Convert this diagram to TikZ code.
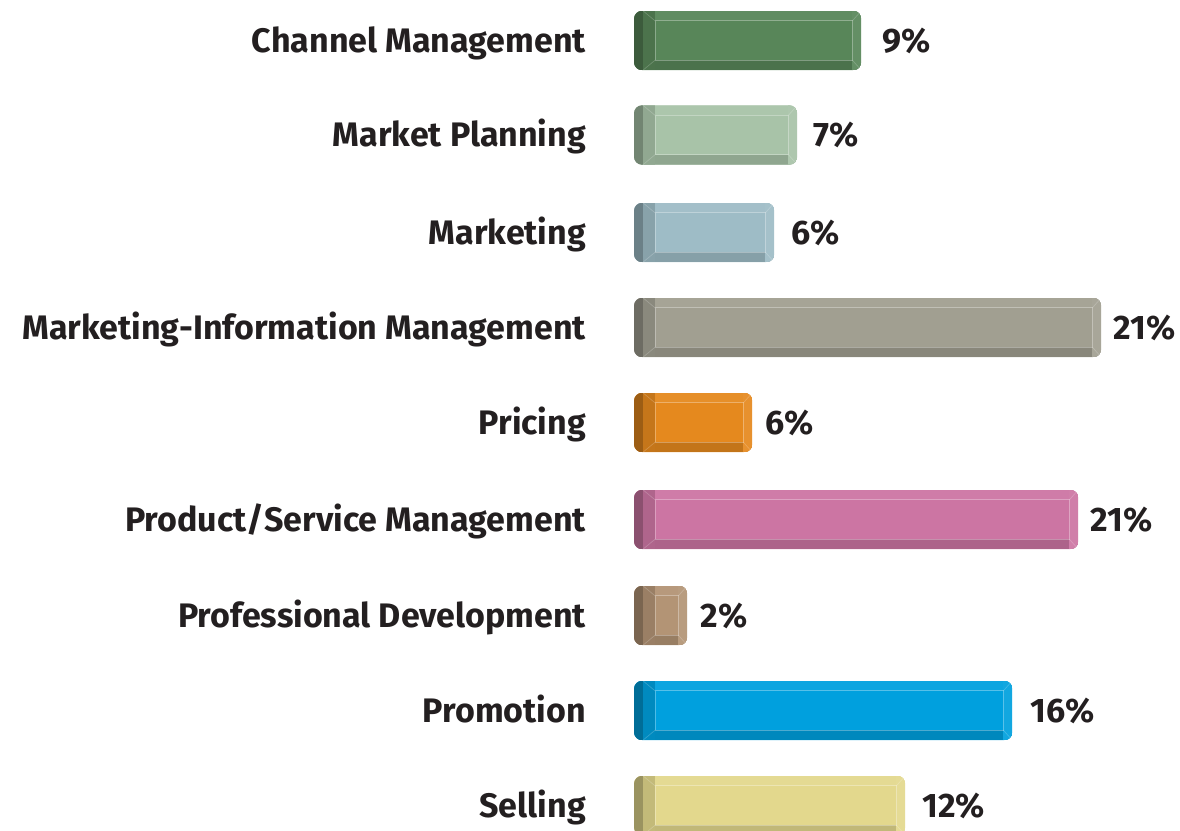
\documentclass[tikz,border=0pt]{standalone}
\usepackage{fontspec}
\setmainfont{Fira Sans}
\usetikzlibrary{positioning}

\definecolor{labelink}{HTML}{231F20}
\definecolor{chancol}{HTML}{588659}
\definecolor{mplancol}{HTML}{A8C3A8}
\definecolor{mktcol}{HTML}{9EBCC6}
\definecolor{mimcol}{HTML}{A19F91}
\definecolor{pricecol}{HTML}{E5891E}
\definecolor{prodcol}{HTML}{CC75A3}
\definecolor{profcol}{HTML}{B39475}
\definecolor{promocol}{HTML}{00A0DE}
\definecolor{sellcol}{HTML}{E3D88D}

\begin{document}
\begin{tikzpicture}[
x=1pt, y=-1pt,
node distance = 16pt and 48pt,
barbox/.style={rectangle, rounded corners=8pt, inner sep=0pt, minimum height=59pt, anchor=west},
catlabel/.style={font=\bfseries\fontsize{34}{34}\selectfont, text=labelink, inner sep=0pt, text height=23pt, text depth=0pt},
pctlabel/.style={font=\bfseries\fontsize{34}{34}\selectfont, text=labelink, inner sep=0pt, text height=23pt, text depth=0pt},
gloss/.style={white, opacity=0.3, line width=0.7pt}]

\useasboundingbox (0,0) rectangle (1180,830);

\foreach \name/\txt/\len/\cy/\col/\pc/\gap in {
  chan/{Channel Management}/227/40.5/chancol/9\%/21,
  mplan/{Market Planning}/163/135/mplancol/7\%/16,
  mkt/{Marketing}/140/232.5/mktcol/6\%/17,
  mim/{Marketing-Information Management}/467/327.5/mimcol/21\%/12,
  price/{Pricing}/118/422.5/pricecol/6\%/13,
  prod/{Product/Service Management}/444/519.5/prodcol/21\%/12,
  prof/{Professional Development}/53/615.5/profcol/2\%/13,
  promo/{Promotion}/378/710.5/promocol/16\%/18,
  sell/{Selling}/271/805.5/sellcol/12\%/17}{
  % bar body
  \node[barbox, fill=\col, minimum width=\len pt] (\name) at (634,\cy) {};
  \begin{scope}
    \clip[rounded corners=8pt] (\name.north west) rectangle (\name.south east);
    \fill[\col!95!white] (\name.north west) rectangle ([yshift=-10pt]\name.north east);
    \fill[\col!85!black] ([yshift=10pt]\name.south west) rectangle (\name.south east);
    \fill[\col!93!white] ([xshift=-9pt]\name.north east) rectangle (\name.south east);
    \fill[\col!86!black] ([xshift=9pt]\name.north west) rectangle ([xshift=21pt]\name.south west);
    \fill[\col!68!black] (\name.north west) rectangle ([xshift=9pt]\name.south west);
    \draw[gloss] ([xshift=21pt,yshift=-10pt]\name.north west) -- ([xshift=-9pt,yshift=-10pt]\name.north east)
      -- ([xshift=-9pt,yshift=10pt]\name.south east) -- ([xshift=21pt,yshift=10pt]\name.south west) -- cycle;
    \draw[gloss, opacity=0.2] ([xshift=9pt]\name.north west) -- ([xshift=21pt,yshift=-10pt]\name.north west)
      ([xshift=9pt]\name.south west) -- ([xshift=21pt,yshift=10pt]\name.south west)
      ([xshift=-1pt,yshift=-1pt]\name.north east) -- ([xshift=-9pt,yshift=-10pt]\name.north east)
      ([xshift=-1pt,yshift=1pt]\name.south east) -- ([xshift=-9pt,yshift=10pt]\name.south east);
  \end{scope}
  % labels
  \node[catlabel, left=of \name] (\name-txt) {\txt};
  \node[pctlabel, right=\gap pt of \name] (\name-pct) {\pc};
}
\end{tikzpicture}
\end{document}
